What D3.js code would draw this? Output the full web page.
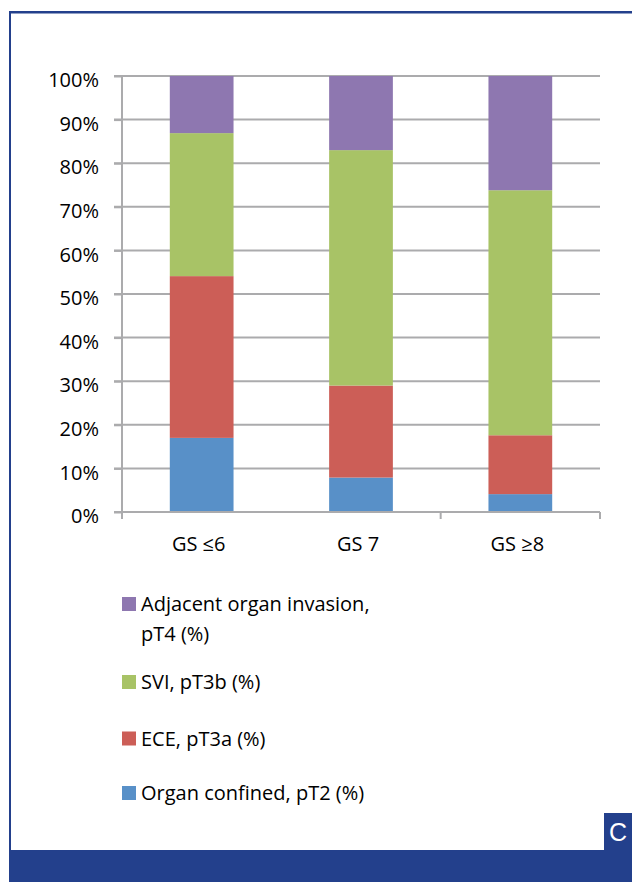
<!DOCTYPE html>
<html><head><meta charset="utf-8">
<script src="https://cdn.jsdelivr.net/npm/d3@7"></script>
<style>html,body{margin:0;padding:0;background:#fff;}svg{display:block;}</style>
</head><body>
<svg id="c" width="632" height="883"></svg>
<script>
const categories = ["GS \u22646", "GS 7", "GS \u22658"];
const seriesNames = ["Organ confined, pT2 (%)", "ECE, pT3a (%)", "SVI, pT3b (%)", "Adjacent organ invasion, pT4 (%)"];
const pT2  = [17.0, 7.9, 4.1];
const pT3a = [37.1, 21.1, 13.5];
const pT3b = [32.8, 54.0, 56.2];
const pT4  = [13.1, 17.0, 26.2];
const yTicks = [0, 10, 20, 30, 40, 50, 60, 70, 80, 90, 100];
const colors = ["#5890C8", "#CC5E57", "#A8C366", "#8E77B0"];
const legendLines = [["Adjacent organ invasion,", "pT4 (%)"], ["SVI, pT3b (%)"], ["ECE, pT3a (%)"], ["Organ confined, pT2 (%)"]];

const svg = d3.select("#c");
const font = "'Open Sans', sans-serif";
const fs = 20;
const dark = "#23408C";

// frame
svg.append("rect").attr("x", 9).attr("y", 11).attr("width", 2).attr("height", 840).attr("fill", dark);
svg.append("rect").attr("x", 9).attr("y", 11).attr("width", 623).attr("height", 2.5).attr("fill", dark);
svg.append("rect").attr("x", 9).attr("y", 850).attr("width", 623).attr("height", 32).attr("fill", dark);
svg.append("rect").attr("x", 604).attr("y", 813).attr("width", 28).attr("height", 38).attr("fill", dark);
svg.append("text").attr("x", 618).attr("y", 841).attr("text-anchor", "middle")
  .attr("font-family", "'Liberation Sans', Arial, sans-serif").attr("font-size", 25).attr("fill", "#fff").text("C");

const x0 = 122, x1 = 600, yTop = 76, yBot = 512;
const x = d3.scaleBand().domain(categories).range([x0, x1]).paddingInner(0.6).paddingOuter(0.3);
const y = d3.scaleLinear().domain([0, 100]).range([yBot, yTop]);

const grid = "#ABABAD";
// gridlines
svg.append("g").selectAll("line").data(yTicks.filter(d => d > 0)).join("line")
  .attr("x1", 114).attr("x2", x1).attr("y1", d => y(d)).attr("y2", d => y(d))
  .attr("stroke", grid).attr("stroke-width", 2);

// stacked bars
const table = categories.map((c, i) => ({cat: c, s0: pT2[i], s1: pT3a[i], s2: pT3b[i], s3: pT4[i]}));
const stack = d3.stack().keys(["s0", "s1", "s2", "s3"])(table);
svg.append("g").selectAll("g").data(stack).join("g").attr("fill", (d, i) => colors[i])
  .selectAll("rect").data(d => d).join("rect")
  .attr("x", d => x(d.data.cat)).attr("width", x.bandwidth())
  .attr("y", d => y(d[1])).attr("height", d => y(d[0]) - y(d[1]));

// y axis
const ya = svg.append("g").attr("transform", `translate(${x0},0)`)
  .call(d3.axisLeft(y).tickValues(yTicks).tickFormat(d => d + "%").tickSize(8).tickPadding(15));
ya.select(".domain").attr("stroke", grid).attr("stroke-width", 2).attr("d", `M0,${yTop}V${yBot}`);
ya.selectAll(".tick line").attr("stroke", grid).attr("stroke-width", 2);
ya.selectAll(".tick text").attr("font-family", font).attr("font-size", fs).attr("fill", "#000").attr("dy", "0.53em");

// x axis
const xa = svg.append("g").attr("transform", `translate(0,${yBot})`)
  .call(d3.axisBottom(x).tickSize(0).tickPadding(25));
xa.select(".domain").attr("stroke", grid).attr("stroke-width", 2).attr("d", `M${114},0H${x1}`);
xa.selectAll(".tick text").attr("font-family", font).attr("font-size", fs).attr("fill", "#000").attr("dx", -3);
const bTicks = [x0, x0 + x.step() * 2, x1];
svg.append("g").selectAll("line").data(bTicks).join("line")
  .attr("x1", d => d).attr("x2", d => d).attr("y1", yBot).attr("y2", yBot + 7)
  .attr("stroke", grid).attr("stroke-width", 2);

// legend
const legY = [611, 689, 745.5, 800];
const lcol = [colors[3], colors[2], colors[1], colors[0]];
const lg = svg.append("g");
legendLines.forEach((lines, i) => {
  lg.append("rect").attr("x", 122).attr("y", legY[i] - 14).attr("width", 14).attr("height", 14).attr("fill", lcol[i]);
  lines.forEach((t, j) => {
    lg.append("text").attr("x", 141).attr("y", legY[i] + j * 29.5)
      .attr("font-family", font).attr("font-size", fs).attr("fill", "#000").text(t);
  });
});
</script>
</body></html>
